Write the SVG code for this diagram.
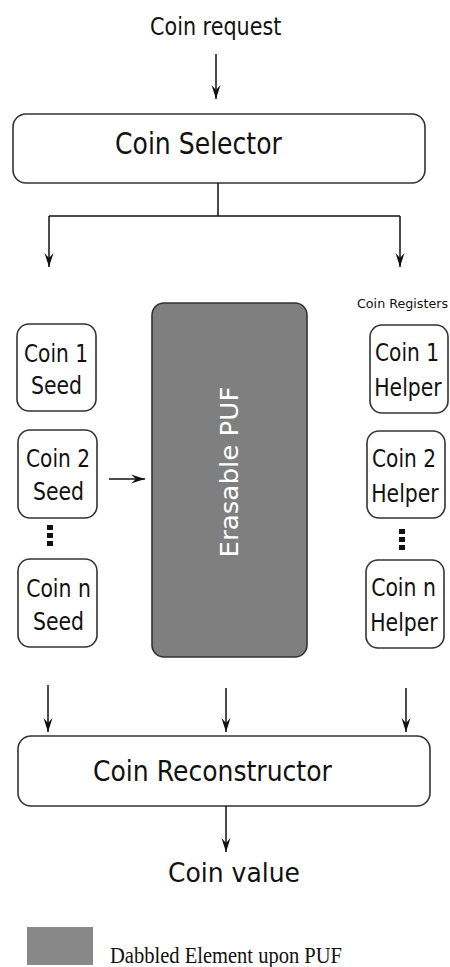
<svg xmlns="http://www.w3.org/2000/svg" width="450" height="967" viewBox="0 0 450 967">
  <defs>
    <marker id="arrow" markerUnits="userSpaceOnUse" markerWidth="16" markerHeight="12" viewBox="-14 -6 16 12" refX="0" refY="0" orient="auto">
      <path d="M0,0 L-14,-4.5 L-9,0 L-14,4.5 Z" fill="#111"/>
    </marker>
  </defs>
  <style>
    .box { fill: #fff; stroke: #333; stroke-width: 1.6; }
    .puf { fill: #7f7f7f; stroke: #333; stroke-width: 1.6; }
    .lbl { font-family: "DejaVu Sans", "Liberation Sans", sans-serif; fill: #111; }
    .cell { font-family: "DejaVu Sans", "Liberation Sans", sans-serif; fill: #111; font-size: 25.5px; text-anchor: middle; }
    .wire { fill: none; stroke: #111; stroke-width: 1.5; }
    .arr { fill: none; stroke: #111; stroke-width: 1.5; marker-end: url(#arrow); }
    .dot { fill: #111; }
  </style>

  <rect width="450" height="967" fill="#fff"/>

  <g id="coin-request">
    <text class="lbl" transform="translate(150 35) scale(0.864 1)" font-size="24">Coin request</text>
  </g>

  <g id="coin-selector">
    <rect class="box" x="13" y="114" width="412" height="69" rx="13"/>
    <text class="lbl" transform="translate(115 154) scale(0.837 1)" font-size="30">Coin Selector</text>
  </g>

  <g id="coin-registers-label">
    <text class="lbl" x="357" y="308" font-size="12" textLength="91" lengthAdjust="spacingAndGlyphs">Coin Registers</text>
  </g>

  <!-- seed registers (left column) -->
  <g id="seed-1">
    <rect class="box" x="17" y="324" width="79" height="87" rx="12"/>
    <text class="cell" transform="translate(56 362) scale(0.79 1)">Coin 1</text>
    <text class="cell" transform="translate(56.5 394) scale(0.8 1)">Seed</text>
  </g>
  <g id="seed-2">
    <rect class="box" x="18" y="430" width="79" height="88" rx="12"/>
    <text class="cell" transform="translate(58 467) scale(0.79 1)">Coin 2</text>
    <text class="cell" transform="translate(58.5 500) scale(0.8 1)">Seed</text>
  </g>
  <g id="seed-dots">
    <rect class="dot" x="47" y="525" width="6" height="5"/>
    <rect class="dot" x="47" y="533" width="6" height="5"/>
    <rect class="dot" x="47" y="541" width="6" height="5"/>
  </g>
  <g id="seed-n">
    <rect class="box" x="18" y="559" width="79" height="88" rx="12"/>
    <text class="cell" transform="translate(58.5 597) scale(0.8 1)">Coin n</text>
    <text class="cell" transform="translate(58.5 630) scale(0.8 1)">Seed</text>
  </g>

  <!-- helper registers (right column) -->
  <g id="helper-1">
    <rect class="box" x="370" y="325" width="78" height="88" rx="12"/>
    <text class="cell" transform="translate(407 361) scale(0.79 1)">Coin 1</text>
    <text class="cell" transform="translate(408 396) scale(0.8 1)">Helper</text>
  </g>
  <g id="helper-2">
    <rect class="box" x="367" y="431" width="78" height="87" rx="12"/>
    <text class="cell" transform="translate(404 467) scale(0.79 1)">Coin 2</text>
    <text class="cell" transform="translate(405 502) scale(0.8 1)">Helper</text>
  </g>
  <g id="helper-dots">
    <rect class="dot" x="399" y="529" width="6" height="5"/>
    <rect class="dot" x="399" y="537" width="6" height="5"/>
    <rect class="dot" x="399" y="545" width="6" height="5"/>
  </g>
  <g id="helper-n">
    <rect class="box" x="366" y="560" width="78" height="88" rx="12"/>
    <text class="cell" transform="translate(403.5 596) scale(0.8 1)">Coin n</text>
    <text class="cell" transform="translate(404 631) scale(0.8 1)">Helper</text>
  </g>

  <g id="erasable-puf">
    <rect class="puf" x="152" y="303" width="155" height="354" rx="12"/>
    <text class="lbl" x="0" y="0" font-size="24" style="fill:#fff" text-anchor="middle" textLength="171" lengthAdjust="spacingAndGlyphs" transform="translate(238 472) rotate(-90)">Erasable PUF</text>
  </g>

  <g id="coin-reconstructor">
    <rect class="box" x="18" y="736" width="412" height="70" rx="13"/>
    <text class="lbl" transform="translate(93 781) scale(0.896 1)" font-size="28">Coin Reconstructor</text>
  </g>

  <g id="coin-value">
    <text class="lbl" transform="translate(168 882) scale(0.928 1)" font-size="27">Coin value</text>
  </g>

  <g id="legend">
    <rect x="27" y="927" width="66" height="38" fill="#888"/>
    <text x="110" y="963" font-family="'Liberation Serif', 'DejaVu Serif', serif" font-size="24" fill="#111" textLength="232" lengthAdjust="spacingAndGlyphs">Dabbled Element upon PUF</text>
  </g>

  <g id="connectors">
    <line class="arr" x1="216" y1="54" x2="216" y2="99"/>
    <polyline class="wire" points="218,183 218,216"/>
    <polyline class="wire" points="49,216 400,216"/>
    <line class="arr" x1="49" y1="216" x2="49" y2="267"/>
    <line class="arr" x1="400" y1="216" x2="400" y2="267"/>
    <line class="arr" x1="109" y1="479" x2="145" y2="479"/>
    <line class="arr" x1="48" y1="685" x2="48" y2="732"/>
    <line class="arr" x1="226" y1="688" x2="226" y2="732"/>
    <line class="arr" x1="406" y1="688" x2="406" y2="732"/>
    <line class="arr" x1="226" y1="806" x2="226" y2="852"/>
  </g>
</svg>
